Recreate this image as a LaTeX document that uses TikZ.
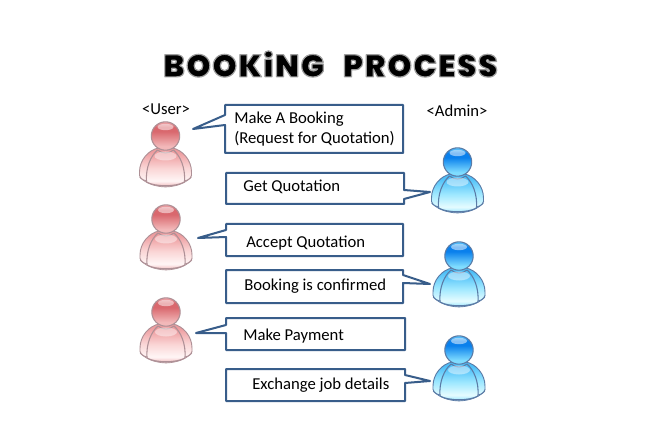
\documentclass[tikz,border=0pt]{standalone}
\usepackage{fontspec}
\setmainfont{Carlito}
\newfontfamily\titlefont[LetterSpace=4.5,BoldFont={Poppins Black}]{Poppins}
\definecolor{calloutblue}{HTML}{385D8A}
\definecolor{redline}{HTML}{AE9096}
\definecolor{blueline}{HTML}{5A7BA6}
\definecolor{ra}{HTML}{EFB2B4}\definecolor{rb}{HTML}{FFF6F6}\definecolor{rc}{HTML}{FAD6D6}\definecolor{rd}{HTML}{EE9C9F}
\definecolor{ba}{HTML}{8FE3FF}\definecolor{bb}{HTML}{E6FCFF}\definecolor{bc}{HTML}{9FE8FF}\definecolor{bd}{HTML}{4DBFF8}
\definecolor{rhb}{HTML}{F2B8B9}\definecolor{rhm}{HTML}{D9686E}\definecolor{rht}{HTML}{EDA4A8}
\definecolor{bhb}{HTML}{7FDCFF}\definecolor{bhm}{HTML}{0A80EC}\definecolor{bht}{HTML}{5CC4FA}
\pgfdeclareverticalshading{redbody}{100bp}{color(0bp)=(ra); color(25bp)=(ra); color(33bp)=(rb); color(50bp)=(rc); color(70bp)=(rd); color(75bp)=(rd); color(100bp)=(rd)}
\pgfdeclareverticalshading{bluebody}{100bp}{color(0bp)=(ba); color(25bp)=(ba); color(33bp)=(bb); color(50bp)=(bc); color(70bp)=(bd); color(75bp)=(bd); color(100bp)=(bd)}
\pgfdeclareverticalshading{redhead}{100bp}{color(0bp)=(rhb); color(25bp)=(rhb); color(32bp)=(rhb); color(58bp)=(rhm); color(66bp)=(rhm); color(75bp)=(rht); color(100bp)=(rht)}
\pgfdeclareverticalshading{bluehead}{100bp}{color(0bp)=(bhb); color(25bp)=(bhb); color(32bp)=(bhb); color(58bp)=(bhm); color(66bp)=(bhm); color(75bp)=(bht); color(100bp)=(bht)}
\begin{document}
\begin{tikzpicture}[x=0.75pt,y=-0.75pt,line join=round,
  callout/.style={draw=calloutblue,line width=1.5pt,fill=white},
  label/.style={font=\fontsize{12.5}{15}\selectfont,anchor=west,inner sep=0pt,text=black},
  actor/.style={font=\fontsize{12.5}{15}\selectfont,inner sep=0pt,text=black},
  titletext/.style={font=\titlefont\bfseries\fontsize{23.5}{26}\selectfont,inner sep=0pt,text=black}]
\useasboundingbox (0,0) rectangle (657,431);
\fill[white] (0,0) rectangle (657,431);
% person: #1 name, #2 x, #3 y, #4 body shading, #5 head shading, #6 line colour
\newcommand{\person}[6]{%
  \begin{scope}[shift={(#2,#3)}]
    \path[draw=#6,line width=0.7pt,shading=#4]
      (-26,36) .. controls (-26,24) and (-17,14) .. (-7,12)
      -- (7,12) .. controls (17,14) and (26,24) .. (26,36)
      .. controls (27,41) and (24,44) .. (19,45)
      .. controls (10,52) and (-10,52) .. (-19,45)
      .. controls (-24,44) and (-27,41) .. (-26,36) -- cycle;
    \path[draw=#6,line width=0.8pt,shading=#4]
      (-19,46) .. controls (-20,32) and (-15,20) .. (-8,14)
      .. controls (-3,18) and (3,18) .. (8,14)
      .. controls (15,20) and (20,32) .. (19,46)
      .. controls (10,51) and (-10,51) .. (-19,46) -- cycle;
    \fill[white,opacity=0.45] (0,20) ellipse (11 and 4.5);
    \draw[#6,line width=0.5pt] (-26,41) .. controls (-20,47) and (-12,50.5) .. (0,51) .. controls (12,50.5) and (20,47) .. (26,41);
    \path[draw=#6,line width=0.8pt,shading=#5] (0,0) circle (14.2);
    \fill[white,opacity=0.5] (0,-9) ellipse (8 and 3.2);
    \coordinate (#1) at (0,0);
  \end{scope}}
% title: one text, black fill with a grey stroke
\node[titletext] (title) at (330.5,64) {\special{pdf:code q 2 Tr 0.62 G 0.9 w}BOOKiNG\hspace{9pt} PROCESS\special{pdf:code 0 Tr Q}};
% actor labels
\node[actor] (userlabel) at (166,109) {<User>};
\node[actor] (adminlabel) at (457,111) {<Admin>};
% people
\person{u1}{165.5}{136}{redbody}{redhead}{redline}
\person{u2}{166}{219}{redbody}{redhead}{redline}
\person{u3}{166}{312}{redbody}{redhead}{redline}
\person{a1}{457.5}{162}{bluebody}{bluehead}{blueline}
\person{a2}{459}{256}{bluebody}{bluehead}{blueline}
\person{a3}{459}{350}{bluebody}{bluehead}{blueline}
% callouts
\draw[callout] (225,105) -- (403,105) -- (403,153) -- (225,153) -- (225,125) -- (193,129) -- (225,115) -- cycle;
\draw[callout] (226,173) -- (404,173) -- (404,190) -- (430,192) -- (404,199) -- (404,204) -- (226,204) -- cycle;
\draw[callout] (226,224) -- (403,224) -- (403,256) -- (226,256) -- (226,237) -- (198,238) -- (226,230) -- cycle;
\draw[callout] (226,270) -- (403,270) -- (403,275) -- (430,284) -- (403,283) -- (403,303) -- (226,303) -- cycle;
\draw[callout] (226,318) -- (405,318) -- (405,350) -- (226,350) -- (226,333) -- (196,333) -- (226,325) -- cycle;
\draw[callout] (226,369) -- (405,369) -- (405,375) -- (430,381) -- (405,383) -- (405,401) -- (226,401) -- cycle;
% texts
\node[label] (t1a) at (234,119) {Make A Booking};
\node[label] (t1b) at (234,139) {(Request for Quotation)};
\node[label] (t2) at (243,186.5) {Get Quotation};
\node[label] (t3) at (246,243.5) {Accept Quotation};
\node[label] (t4) at (244,286.5) {Booking is confirmed};
\node[label] (t5) at (243,336.5) {Make Payment};
\node[label] (t6) at (252,385.5) {Exchange job details};
\end{tikzpicture}
\end{document}
